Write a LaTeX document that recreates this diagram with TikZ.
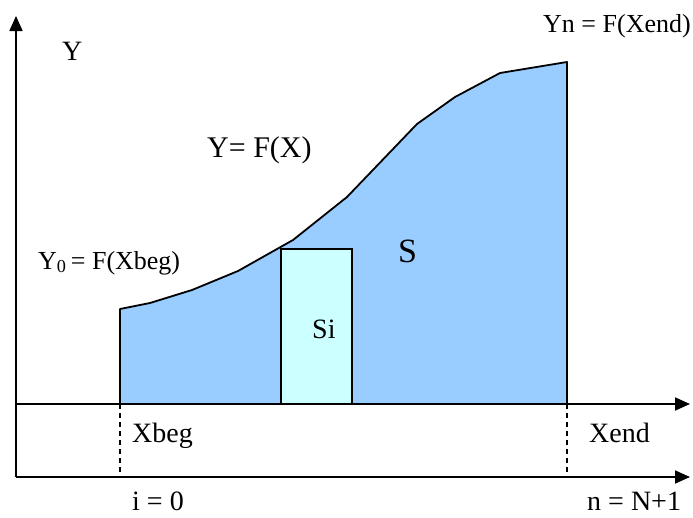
\documentclass[tikz,border=0pt]{standalone}
\usepackage{fontspec}
\setmainfont{Liberation Serif}
\usetikzlibrary{arrows.meta}
\definecolor{areablue}{HTML}{99CCFF}
\definecolor{stripcyan}{HTML}{CCFFFF}
\tikzset{
  axis/.style={line width=1.8pt, -{Triangle[length=15pt, width=13pt]}},
  bound/.style={line width=1.4pt, dash pattern=on 5pt off 4pt},
  area/.style={draw, line width=1.8pt, fill=areablue, line join=round},
  strip/.style={draw, line width=1.8pt, fill=stripcyan},
  txt/.style={inner sep=0pt, anchor=base west, font=\fontsize{28}{31}\selectfont}
}

\begin{document}
\begin{tikzpicture}[x=1pt, y=-1pt]
    \useasboundingbox (0,0) rectangle (693,517);
    \coordinate (o) at (16,477);
    \coordinate (ytop) at (16,16);
    \coordinate (xa) at (16,404);
    \coordinate (xaend) at (690,404);
    \coordinate (naend) at (690,477);
    \coordinate (beg) at (120,404);
    \coordinate (begn) at (120,477);
    \coordinate (end) at (567,404);
    \coordinate (endn) at (567,477);
    % area under the curve
    \draw[area] (beg) -- (120,309) -- (150,303) -- (192,290) -- (238,271) -- (293,240)
      -- (347,197) -- (417,124) -- (455,97) -- (500,73) -- (567,62) -- (end) -- cycle;
    \draw[strip] (281,249) rectangle (352,404);
    \draw[axis] (o) -- (ytop);
    \draw[axis] (xa) -- (xaend);
    \draw[axis] (o) -- (naend);
    \draw[bound] (beg) -- (begn);
    \draw[bound] (end) -- (endn);
    \node[txt] (y) at (62,60) {Y};
    \node[txt, font=\fontsize{30}{33}\selectfont] (fx) at (207,157) {Y= F(X)};
    \node[txt, font=\fontsize{26}{29}\selectfont] (y0) at (38,269) {Y\textsubscript{0}\,= F(Xbeg)};
    \node[txt, font=\fontsize{26}{29}\selectfont] (yn) at (543,32) {Yn = F(Xend)};
    \node[txt, font=\fontsize{34}{38}\selectfont] (s) at (398,262) {S};
    \node[txt] (si) at (312,338) {Si};
    \node[txt] (xbeg) at (132,442) {Xbeg};
    \node[txt] (xend) at (589,442) {Xend};
    \node[txt] (i) at (132,510) {i = 0};
    \node[txt] (n) at (587,510) {n = N+1};
\end{tikzpicture}
\end{document}
